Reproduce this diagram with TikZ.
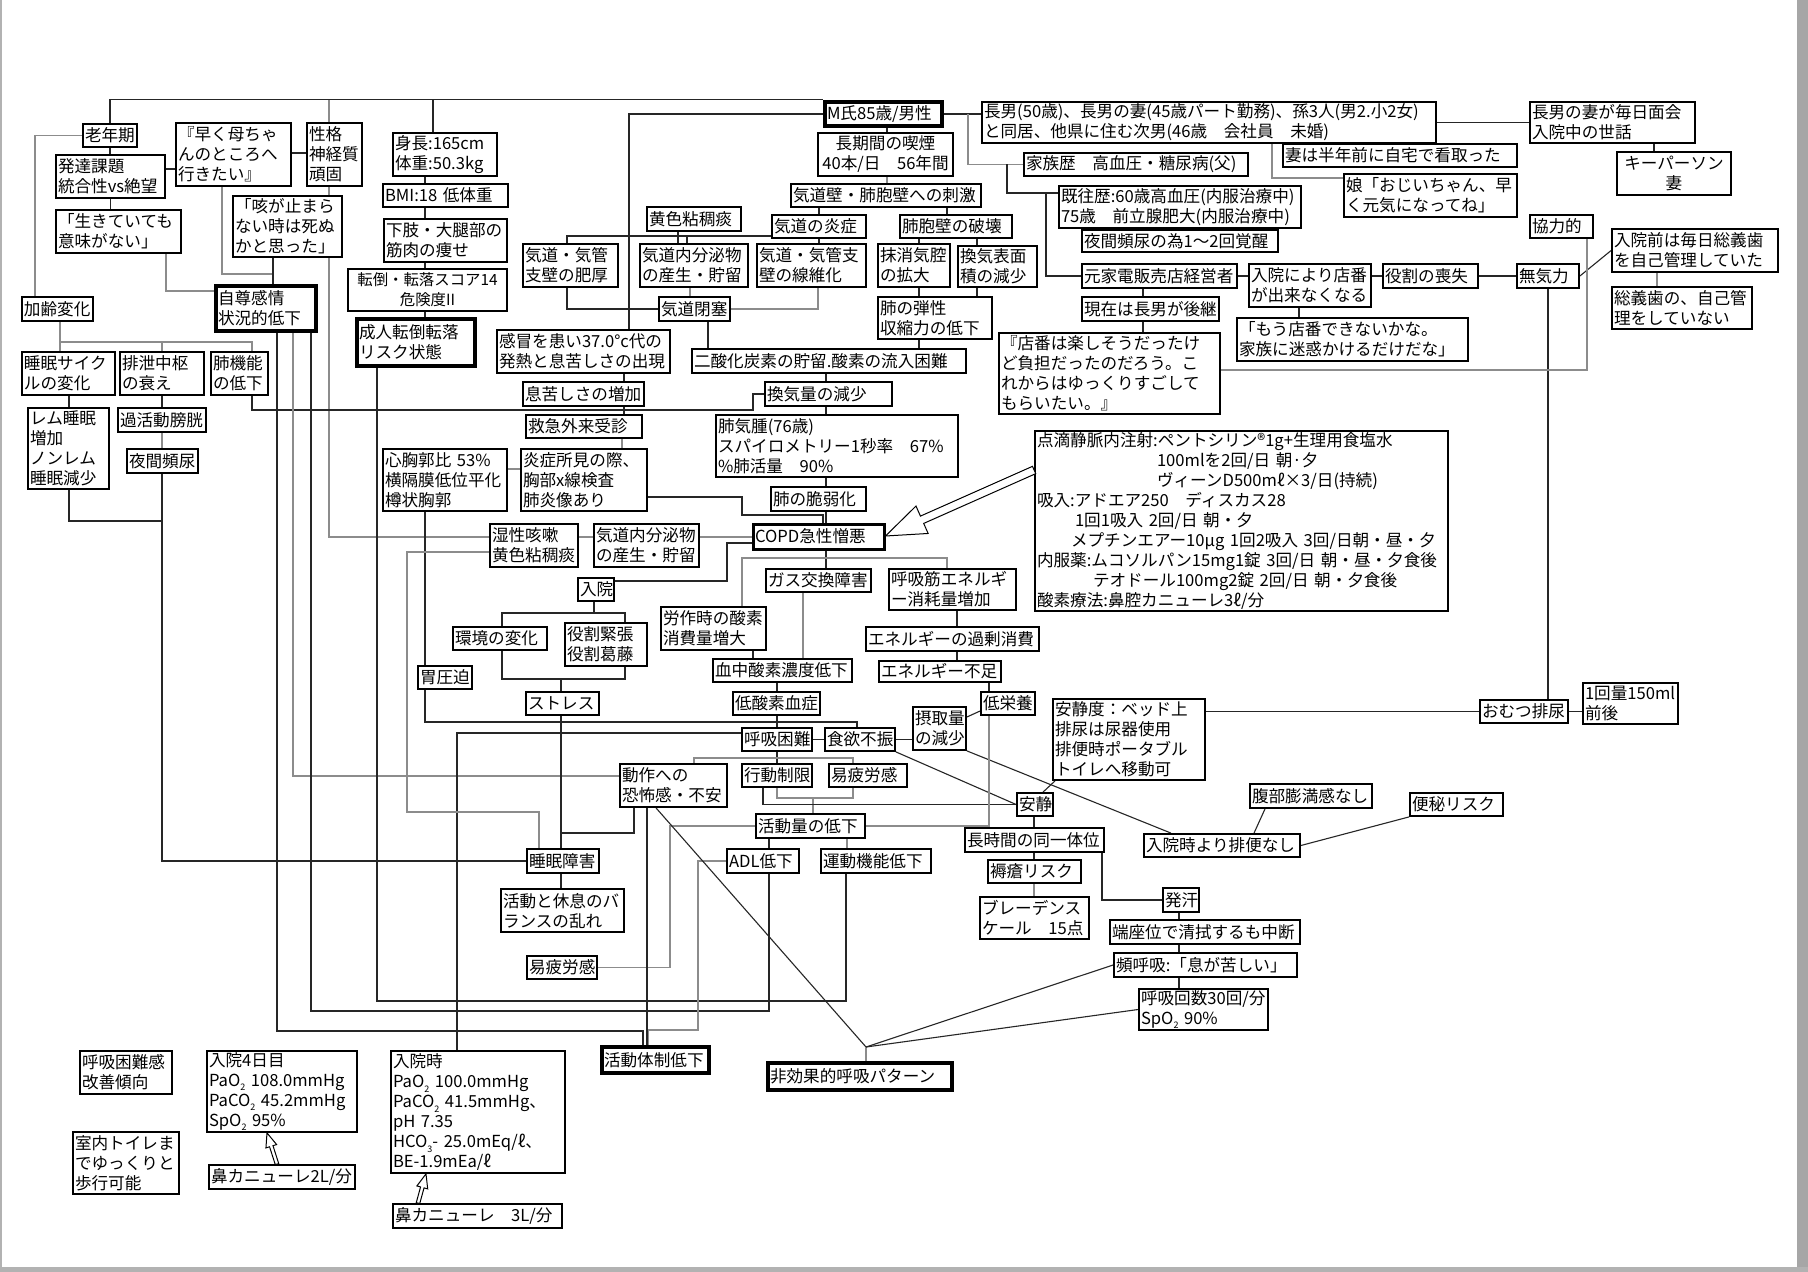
\documentclass[tikz,border=0pt]{standalone}
\usepackage{fontspec}
\setmainfont{Noto Sans CJK JP}
\usetikzlibrary{calc}
\pgfdeclarelayer{bg}
\pgfsetlayers{bg,main}
\newcommand\sbt[1]{\raisebox{-0.5ex}{\fontsize{4.5pt}{4.5pt}\selectfont #1}}
\tikzset{
  bx/.style={draw=black,fill=white,line width=0.9pt,inner xsep=1pt,inner ysep=0pt,
    align=left,font=\fontsize{8.3pt}{10pt}\selectfont},
  tbx/.style={line width=2.2pt},
  mbx/.style={line width=1.5pt},
  ctr/.style={align=center},
  ln/.style={draw=black!85,line width=0.55pt},
  lg/.style={draw=black!45,line width=0.55pt},
  harr/.style={fill=white,draw=black,line width=0.5pt,line join=miter}
}
\newcommand\nb[7][]{%
  \pgfmathsetlengthmacro\nbw{(#5-#3)*0.5pt}%
  \pgfmathsetlengthmacro\nbh{(#6-#4)*0.5pt}%
  \pgfmathsetlengthmacro\nbt{(#5-#3)*0.5pt-2pt}%
  \pgfmathsetmacro\nbx{(#3+#5)/2}%
  \pgfmathsetmacro\nby{(#4+#6)/2}%
  \node[bx,minimum width=\nbw,minimum height=\nbh,text width=\nbt,#1] (#2) at (\nbx,\nby) {#7};}
\newcommand\harrow[5]{%
  \coordinate (hB) at ($(#2)!#3!(#1)$);
  \filldraw[harr] (#2) -- ($(hB)!#4!90:(#2)$) -- ($(hB)!#5!90:(#2)$) -- ($(#1)!#5!90:(hB)$)
   -- ($(#1)!#5!-90:(hB)$) -- ($(hB)!#5!-90:(#2)$) -- ($(hB)!#4!-90:(#2)$) -- cycle;}
\begin{document}
\begin{tikzpicture}[x=0.5pt,y=-0.5pt]
\useasboundingbox (0,0) rectangle (1808,1272);
\begin{pgfonlayer}{bg}
\fill[white] (0,0) rectangle (1808,1272);
\fill[black!35] (1797,0) rectangle (1808,1272);
\fill[black!30] (0,0) rectangle (2,1272);
\fill[black!30] (0,1267) rectangle (1808,1272);
\end{pgfonlayer}

% ---------- left group ----------
\nb{roun}{83}{124}{137}{147}{老年期}
\nb{hattatsu}{56}{155}{165}{198}{発達課題\\統合性vs絶望}
\nb[line width=1.2pt]{ikite}{56}{210}{181}{253}{「生きていても\\意味がない」}
\nb{haha}{176}{123}{291}{186}{『早く母ちゃ\\んのところへ\\行きたい』}
\nb{seikaku}{307}{123}{362}{186}{性格\\神経質\\頑固}
\nb{seki}{233}{196}{342}{257}{「咳が止まら\\ない時は死ぬ\\かと思った」}
\nb[tbx]{jison}{216}{286}{316}{331}{自尊感情\\状況的低下}
\nb{karei}{22}{297}{93}{321}{加齢変化}
\nb{suimin}{22}{352}{115}{395}{睡眠サイク\\ルの変化}
\nb{haisetsu}{120}{352}{204}{395}{排泄中枢\\の衰え}
\nb{haikino}{211}{352}{268}{395}{肺機能\\の低下}
\nb{rem}{28}{408}{109}{489}{レム睡眠\\増加\\ノンレム\\睡眠減少}
\nb{kakatsudo}{118}{408}{206}{432}{過活動膀胱}
\nb{yakan}{127}{449}{198}{473}{夜間頻尿}
\nb{shincho}{393}{133}{497}{176}{身長:165cm\\体重:50.3kg}
\nb{bmi}{383}{184}{508}{207}{BMI:18~低体重}
\nb{kashi}{384}{219}{507}{262}{下肢・大腿部の\\筋肉の痩せ}
\nb[ctr,font=\fontsize{7.7pt}{10pt}\selectfont]{tentou}{348}{269}{507}{311}{転倒・転落スコア14\\危険度II}
\nb[tbx]{seijin}{357}{319}{475}{366}{成人転倒転落\\リスク状態}
\nb{shinkyo}{383}{449}{507}{511}{心胸郭比~53\%\\横隔膜低位平化\\樽状胸郭}
\nb{iatsu}{418}{666}{472}{689}{胃圧迫}

% ---------- middle ----------
\nb[tbx]{M}{825}{102}{942}{126}{M氏85歳/男性}
\nb[ctr]{kitsuen}{818}{133}{953}{176}{長期間の喫煙\\40本/日　56年間}
\nb{shigeki}{791}{184}{981}{207}{気道壁・肺胞壁への刺激}
\nb{oushoku}{647}{207}{741}{231}{黄色粘稠痰}
\nb{ensho}{772}{215}{866}{238}{気道の炎症}
\nb{hakai}{900}{215}{1012}{238}{肺胞壁の破壊}
\nb{hiko}{523}{244}{618}{287}{気道・気管\\支壁の肥厚}
\nb{bunpitsuA}{640}{244}{748}{287}{気道内分泌物\\の産生・貯留}
\nb{seni}{757}{244}{866}{287}{気道・気管支\\壁の線維化}
\nb{masho}{878}{244}{950}{287}{抹消気腔\\の拡大}
\nb{kanki}{958}{246}{1037}{287}{換気表面\\積の減少}
\nb{heisoku}{659}{297}{730}{321}{気道閉塞}
\nb{danse}{878}{297}{992}{339}{肺の弾性\\収縮力の低下}
\nb{kanbou}{497}{330}{670}{373}{感冒を患い37.0°c代の\\発熱と息苦しさの出現}
\nb{cotwo}{692}{349}{966}{373}{二酸化炭素の貯留.酸素の流入困難}
\nb{ikigurushi}{523}{382}{644}{406}{息苦しさの増加}
\nb{kankiryo}{765}{382}{892}{406}{換気量の減少}
\nb{kyukyu}{526}{415}{642}{438}{救急外来受診}
\nb{enshoB}{521}{449}{647}{511}{炎症所見の際、\\胸部x線検査\\肺炎像あり}
\nb{haikishu}{716}{415}{958}{477}{肺気腫(76歳)\\スパイロメトリー1秒率　67\%\\\%肺活量　90\%}
\nb{zeijaku}{771}{487}{866}{511}{肺の脆弱化}
\nb[mbx]{copd}{753}{524}{884}{549}{COPD急性憎悪}
\nb{shissei}{490}{524}{578}{567}{湿性咳嗽\\黄色粘稠痰}
\nb{bunpitsuB}{594}{524}{699}{567}{気道内分泌物\\の産生・貯留}
\nb{nyuin}{578}{578}{614}{601}{入院}
\nb{kankyo}{453}{627}{547}{650}{環境の変化}
\nb{yakuwari}{565}{623}{647}{666}{役割緊張\\役割葛藤}
\nb{gas}{766}{569}{871}{592}{ガス交換障害}
\nb{kokyukin}{889}{569}{1016}{610}{呼吸筋エネルギ\\ー消耗量増加}
\nb{rosa}{661}{607}{766}{650}{労作時の酸素\\消費量増大}
\nb{kajo}{866}{627}{1039}{651}{エネルギーの過剰消費}
\nb{busoku}{879}{661}{1001}{682}{エネルギー不足}
\nb{ketchu}{713}{659}{852}{682}{血中酸素濃度低下}
\nb{teisanso}{733}{692}{820}{715}{低酸素血症}
\nb{stress}{526}{692}{599}{715}{ストレス}
\nb{kokyukon}{742}{728}{812}{751}{呼吸困難}
\nb{shokuyoku}{825}{728}{895}{751}{食欲不振}
\nb{sesshu}{913}{707}{966}{750}{摂取量\\の減少}
\nb{teieiyo}{981}{692}{1035}{715}{低栄養}
\nb{dosa}{620}{764}{727}{807}{動作への\\恐怖感・不安}
\nb{kodo}{742}{764}{812}{787}{行動制限}
\nb{ekiroA}{829}{764}{907}{787}{易疲労感}
\nb{katsudo}{756}{814}{865}{838}{活動量の低下}
\nb{adl}{727}{849}{799}{873}{ADL低下}
\nb{undo}{821}{849}{931}{873}{運動機能低下}
\nb{suiminsho}{527}{849}{599}{873}{睡眠障害}
\nb{balance}{501}{889}{624}{932}{活動と休息のバ\\ランスの乱れ}
\nb{ekiroB}{527}{956}{597}{979}{易疲労感}
\nb[tbx]{taisei}{602}{1047}{709}{1073}{活動体制低下}
\nb[tbx]{hikoka}{768}{1063}{952}{1090}{非効果的呼吸パターン}

% ---------- right ----------
\nb{chonan}{982}{102}{1436}{143}{長男(50歳)、長男の妻(45歳パート勤務)、孫3人(男2.小2女)\\と同居、他県に住む次男(46歳　会社員　未婚)}
\nb{tsuma}{1283}{144}{1517}{167}{妻は半年前に自宅で看取った}
\nb{musume}{1344}{174}{1517}{217}{娘「おじいちゃん、早\\く元気になってね」}
\nb{kazoku}{1024}{153}{1248}{176}{家族歴　高血圧・糖尿病(父)}
\nb{kiou}{1059}{186}{1301}{228}{既往歴:60歳高血圧(内服治療中)\\75歳　前立腺肥大(内服治療中)}
\nb{yakanB}{1082}{230}{1278}{252}{夜間頻尿の為1～2回覚醒}
\nb{moto}{1082}{264}{1237}{288}{元家電販売店経営者}
\nb{mise}{1249}{264}{1371}{307}{入院により店番\\が出来なくなる}
\nb{soshitsu}{1383}{264}{1478}{288}{役割の喪失}
\nb{genzai}{1082}{297}{1219}{321}{現在は長男が後継}
\nb{mou}{1237}{318}{1468}{361}{「もう店番できないかな。\\家族に迷惑かけるだけだな」}
\nb{miseban}{999}{333}{1220}{414}{『店番は楽しそうだったけ\\ど負担だったのだろう。こ\\れからはゆっくりすごして\\もらいたい。』}
\nb{tsumame}{1530}{102}{1695}{143}{長男の妻が毎日面会\\入院中の世話}
\nb[ctr]{key}{1617}{152}{1731}{195}{キーパーソン\\妻}
\nb{kyoryoku}{1530}{215}{1593}{238}{協力的}
\nb{gishi}{1612}{229}{1778}{272}{入院前は毎日総義歯\\を自己管理していた}
\nb{muki}{1517}{264}{1579}{288}{無気力}
\nb{gishiB}{1612}{287}{1752}{329}{総義歯の、自己管\\理をしていない}
\nb{tenteki}{1035}{431}{1448}{611}{点滴静脈内注射:ペントシリン®1g+生理用食塩水\\
\hspace*{60pt}100mlを2回/日~朝·夕\\
\hspace*{60pt}ヴィーンD500mℓ×3/日(持続)\\
吸入:アドエア250　ディスカス28\\
\hspace*{19pt}1回1吸入~2回/日~朝・夕\\
\hspace*{17pt}メプチンエアー10μg~1回2吸入~3回/日朝・昼・夕\\
内服薬:ムコソルパン15mg1錠~3回/日~朝・昼・夕食後\\
\hspace*{28pt}テオドール100mg2錠~2回/日~朝・夕食後\\
酸素療法:鼻腔カニューレ3ℓ/分}
\nb{omutsu}{1480}{700}{1568}{723}{おむつ排尿}
\nb{ikkai}{1583}{683}{1678}{724}{1回量150ml\\前後}
\nb{anseido}{1053}{699}{1205}{780}{安静度：ベッド上\\排尿は尿器使用\\排便時ポータブル\\トイレへ移動可}
\nb{ansei}{1017}{793}{1053}{816}{安静}
\nb{choujikan}{965}{828}{1104}{852}{長時間の同一体位}
\nb{jokuso}{988}{860}{1081}{883}{褥瘡リスク}
\nb{braden}{980}{897}{1089}{939}{ブレーデンス\\ケール　15点}
\nb{hakkan}{1163}{888}{1199}{912}{発汗}
\nb{tanza}{1110}{920}{1300}{944}{端座位で清拭するも中断}
\nb{hinkokyu}{1114}{953}{1297}{977}{頻呼吸:「息が苦しい」}
\nb{kokyusu}{1139}{989}{1268}{1030}{呼吸回数30回/分\\SpO\sbt{2}~90\%}
\nb{fukubu}{1250}{784}{1372}{808}{腹部膨満感なし}
\nb{benpi}{1410}{793}{1503}{816}{便秘リスク}
\nb{haiben}{1144}{834}{1300}{857}{入院時より排便なし}

% ---------- bottom left ----------
\nb{kaizen}{80}{1051}{172}{1094}{呼吸困難感\\改善傾向}
\nb{dayfour}{207}{1051}{357}{1132}{入院4日目\\PaO\sbt{2}~108.0mmHg\\PaCO\sbt{2}~45.2mmHg\\SpO\sbt{2}~95\%}
\nb{toilet}{73}{1132}{179}{1194}{室内トイレま\\でゆっくりと\\歩行可能}
\nb{ntwo}{209}{1165}{355}{1189}{鼻カニューレ2L/分}
\nb{nyuinji}{391}{1051}{565}{1173}{入院時\\PaO\sbt{2}~100.0mmHg\\PaCO\sbt{2}~41.5mmHg、\\pH~7.35\\HCO\sbt{3}-~25.0mEq/ℓ、\\BE-1.9mEa/ℓ}
\nb{nthree}{393}{1204}{562}{1228}{鼻カニューレ　3L/分}

% ---------- connectors ----------
\begin{pgfonlayer}{bg}
% left group
\draw[ln] (M.north west) -| (roun.north);
\draw[lg] (329,0 |- seikaku.north) -- (329,0 |- M.north west);
\draw[ln] (433,0 |- shincho.north) -- (433,0 |- M.north west);
\draw[lg] (roun.west) -| (35,0 |- karei.north);
\draw[ln] (roun.south) -- (roun.south |- hattatsu.north);
\draw[ln] (hattatsu.south) -- (hattatsu.south |- ikite.north);
\draw[ln] (hattatsu.east |- 0,169) -- (haha.west |- 0,169);
\draw[ln] (haha.east |- 0,153) -- (seikaku.west |- 0,153);
\draw[lg] (222,0 |- haha.south) |- (273,274);
\draw[ln] (273,0 |- seki.south) -- (273,0 |- jison.north);
\draw[lg] (166,0 |- ikite.south) |- (jison.west |- 0,291);
\draw[lg] (329,0 |- seikaku.south) -- (329,0 |- seki.north);
\draw[lg] (329,0 |- seki.south) |- (shissei.west |- 0,537);
\draw[lg] (60,0 |- karei.south) |- (252,342) -- (252,0 |- haikino.north);
\draw[lg] (60,342) -- (60,0 |- suimin.north);
\draw[lg] (162,342) -- (162,0 |- haisetsu.north);
\draw[ln] (69,0 |- suimin.south) -- (69,0 |- rem.north);
\draw[ln] (162,0 |- haisetsu.south) -- (162,0 |- kakatsudo.north);
\draw[lg] (162,0 |- kakatsudo.south) -- (162,0 |- yakan.north);
\draw[ln] (162,0 |- yakan.south) |- (suiminsho.west);
\draw[ln] (69,0 |- rem.south) |- (162,521);
\draw[ln] (252,0 |- haikino.south) |- (753,410) |- (kankiryo.west);
\draw[ln] (277,0 |- jison.south) |- (643,1031) -- (643,0 |- taisei.north);
\draw[lg] (293,0 |- jison.south) |- (dosa.west |- 0,776);
\draw[ln] (311,0 |- jison.south) |- (769,1011) -- (769,0 |- adl.south);
\draw[ln] (377,0 |- seijin.south) |- (846,1001) -- (846,0 |- undo.south);
\draw[ln] (425,0 |- shincho.south) -- (425,0 |- bmi.north);
\draw[ln] (425,0 |- bmi.south) -- (425,0 |- kashi.north);
\draw[ln] (425,0 |- kashi.south) -- (425,0 |- tentou.north);
\draw[ln] (425,0 |- tentou.south) -- (425,0 |- seijin.north);
\draw[ln] (425,0 |- shinkyo.south) -- (425,0 |- iatsu.north);
\draw[ln] (425,0 |- iatsu.south) |- (857,722) -- (857,0 |- shokuyoku.north);
\draw[lg] (shinkyo.east |- 0,469) -- (enshoB.west |- 0,469);
% middle
\draw[ln] (M.west) -| (629,0 |- kanbou.north);
\draw[ln] (887,0 |- M.south) -- (887,0 |- kitsuen.north);
\draw[lg] (887,0 |- kitsuen.south) -- (887,0 |- shigeki.north);
\draw[ln] (819,0 |- shigeki.south) -- (819,0 |- ensho.north);
\draw[ln] (947,0 |- shigeki.south) -- (947,0 |- hakai.north);
\draw[ln] (ensho.west |- 0,236) -| (567,0 |- hiko.north);
\draw[ln] (687,236) -- (687,0 |- bunpitsuA.north);
\draw[ln] (678,0 |- oushoku.south) -- (678,0 |- bunpitsuA.north);
\draw[ln] (819,0 |- ensho.south) -- (819,0 |- seni.north);
\draw[ln] (567,0 |- hiko.south) |- (heisoku.west);
\draw[lg] (690,0 |- bunpitsuA.south) -- (690,0 |- heisoku.north);
\draw[lg] (818,0 |- seni.south) |- (heisoku.east);
\draw[ln] (708,0 |- heisoku.south) -- (708,0 |- cotwo.north);
\draw[ln] (919,0 |- hakai.south) -- (919,0 |- masho.north);
\draw[ln] (977,0 |- hakai.south) -- (977,0 |- kanki.north);
\draw[ln] (919,0 |- masho.south) -- (919,0 |- danse.north);
\draw[ln] (977,0 |- kanki.south) -- (977,0 |- danse.north);
\draw[ln] (919,0 |- danse.south) -- (919,0 |- cotwo.north);
\draw[ln] (826,0 |- cotwo.south) -- (826,0 |- kankiryo.north);
\draw[ln] (624,0 |- kanbou.south) -- (624,0 |- ikigurushi.north);
\draw[ln] (624,0 |- ikigurushi.south) -- (624,0 |- kyukyu.north);
\draw[lg] (622,0 |- kyukyu.south) -- (622,0 |- enshoB.north);
\draw[ln] (enshoB.east |- 0,497) -| (742,515) -| (823,0 |- copd.north);
\draw[ln] (826,0 |- kankiryo.south) -- (826,0 |- haikishu.north);
\draw[ln] (826,0 |- haikishu.south) -- (826,0 |- zeijaku.north);
\draw[ln] (826,0 |- zeijaku.south) -- (826,0 |- copd.north);
\draw[lg] (shissei.east |- 0,537) -- (bunpitsuB.west |- 0,537);
\draw[lg] (bunpitsuB.east |- 0,537) -- (copd.west |- 0,537);
\draw[ln] (copd.west |- 0,543) -| (727,581) -- (nyuin.east |- 0,581);
\draw[ln] (594,0 |- nyuin.south) -- (594,613);
\draw[ln] (502,0 |- kankyo.north) |- (625,613) -- (625,0 |- yakuwari.north);
\draw[ln] (502,0 |- kankyo.south) |- (625,679) -- (625,0 |- yakuwari.south);
\draw[ln] (561,679) -- (561,0 |- stress.north);
\draw[ln] (826,0 |- copd.south) -- (826,0 |- gas.north);
\draw[lg] (742,0 |- rosa.north) |- (947,558) -- (947,0 |- kokyukin.north);
\draw[lg] (803,0 |- gas.south) -- (803,0 |- ketchu.north);
\draw[ln] (753,0 |- rosa.south) -- (753,0 |- ketchu.north);
\draw[ln] (777,0 |- ketchu.south) -- (777,0 |- teisanso.north);
\draw[ln] (957,0 |- kokyukin.south) -- (957,0 |- kajo.north);
\draw[ln] (957,0 |- kajo.south) -- (957,0 |- busoku.north);
\draw[ln] (989,0 |- busoku.south) -- (989,0 |- teieiyo.north);
\draw[ln] (777,0 |- teisanso.south) -- (777,0 |- kokyukon.north);
\draw[ln] (kokyukon.east) -- (shokuyoku.west);
\draw[ln] (shokuyoku.east) -- (sesshu.west |- shokuyoku.east);
\draw[ln] (sesshu.east |- 0,717) -- (teieiyo.west |- 0,711);
\draw[ln] (sesshu.south east) -- (1171,0 |- haiben.north);
\draw[ln] (shokuyoku.south east) -- (ansei.west);
\draw[ln] (561,0 |- stress.south) -- (561,0 |- suiminsho.north);
\draw[ln] (634,0 |- dosa.south) |- (561,833);
\draw[ln] (kokyukon.west |- 0,733) -| (457,0 |- nyuinji.north);
\draw[ln] (777,0 |- kokyukon.south) -- (777,0 |- kodo.north);
\draw[lg] (694,0 |- dosa.north) |- (853,758) -- (853,0 |- ekiroA.north);
\draw[lg] (777,0 |- kodo.south) |- (853,798) -- (853,0 |- ekiroA.south);
\draw[lg] (813,798) -- (813,0 |- katsudo.north);
\draw[ln] (763,0 |- kodo.south) |- (ansei.west);
\draw[lg] (989,0 |- teieiyo.south) |- (katsudo.east);
\draw[lg] (katsudo.west) -| (670,0 |- ekiroB.east) -- (ekiroB.east);
\draw[ln] (769,0 |- katsudo.south) -- (769,0 |- adl.north);
\draw[lg] (847,0 |- katsudo.south) -- (847,0 |- undo.north);
\draw[lg] (adl.west) -| (698,1030) -| (648,0 |- taisei.north);
\draw[ln] (647,0 |- dosa.south) -- (647,0 |- taisei.north);
\draw[ln] (656,0 |- dosa.south) -- (866,1047);
\draw[lg] (866,1047) -- (866,0 |- hikoka.north);
\draw[ln] (hinkokyu.west) -- (866,1047);
\draw[ln] (kokyusu.west) -- (866,1047);
\draw[ln] (561,0 |- suiminsho.south) -- (561,0 |- balance.north);
\draw[lg] (shissei.west |- 0,552) -| (407,812) -| (539,0 |- suiminsho.north);
% right
\draw[ln] (M.east) -- (chonan.west |- M.east);
\draw[lg] (968,0 |- M.east) |- (kazoku.west);
\draw[ln] (1007,0 |- kazoku.west) |- (kiou.west |- 0,193);
\draw[ln] (1046,193) |- (moto.west);
\draw[ln] (chonan.east) -- (tsumame.west);
\draw[ln] (1654,0 |- tsumame.south) -- (1654,0 |- key.north);
\draw[lg] (1272,0 |- chonan.south) |- (musume.west |- 0,178);
\draw[ln] (moto.east) -- (mise.west |- moto.east);
\draw[ln] (mise.east |- soshitsu.west) -- (soshitsu.west);
\draw[ln] (soshitsu.east) -- (muki.west);
\draw[ln] (muki.east) -- (gishi.west);
\draw[lg] (1657,0 |- gishi.south) -- (1657,0 |- gishiB.north);
\draw[ln] (1548,0 |- muki.south) -- (1548,0 |- omutsu.north);
\draw[ln] (1143,0 |- moto.south) -- (1143,0 |- genzai.north);
\draw[ln] (1143,0 |- genzai.south) -- (1143,0 |- miseban.north);
\draw[ln] (1299,0 |- mise.south) -- (1299,0 |- mou.north);
\draw[lg] (miseban.east |- 0,370) -| (1587,0 |- kyoryoku.south);
\draw[ln] (anseido.east |- omutsu.west) -- (omutsu.west);
\draw[ln] (omutsu.east) -- (ikkai.west |- omutsu.east);
\draw[ln] (1055,0 |- anseido.south) -- (1043,0 |- ansei.north);
\draw[ln] (1034,0 |- ansei.south) -- (1034,0 |- choujikan.north);
\draw[ln] (1034,0 |- choujikan.south) -- (1034,0 |- jokuso.north);
\draw[lg] (1034,0 |- jokuso.south) -- (1034,0 |- braden.north);
\draw[ln] (1102,0 |- choujikan.south) |- (hakkan.west);
\draw[ln] (1179,0 |- hakkan.south) -- (1179,0 |- tanza.north);
\draw[ln] (1179,0 |- tanza.south) -- (1179,0 |- hinkokyu.north);
\draw[ln] (1179,0 |- hinkokyu.south) -- (1179,0 |- kokyusu.north);
\draw[ln] (1265,0 |- fukubu.south) -- (1254,0 |- haiben.north);
\draw[ln] (benpi.south west) -- (haiben.east);
\end{pgfonlayer}

% ---------- hollow arrows ----------
\coordinate (aT) at (tenteki.west |- 0,470);
\coordinate (aH) at (copd.east |- 0,536);
\harrow{aT}{aH}{20pt}{7.5pt}{2pt}
\coordinate (bT) at (277,0 |- ntwo.north);
\coordinate (bH) at (267,0 |- dayfour.south);
\harrow{bT}{bH}{7pt}{2.8pt}{0.9pt}
\coordinate (cT) at (418,0 |- nthree.north);
\coordinate (cH) at (426,0 |- nyuinji.south);
\harrow{cT}{cH}{7pt}{2.8pt}{0.9pt}
\end{tikzpicture}
\end{document}
